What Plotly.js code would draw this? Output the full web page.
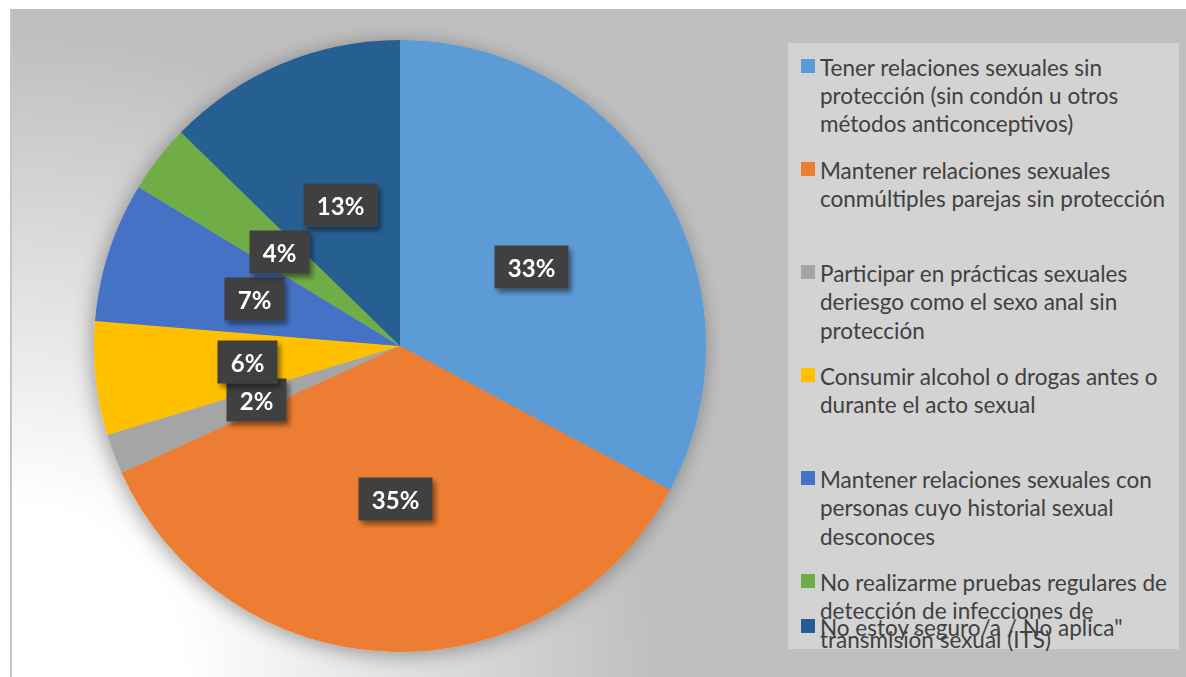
<!DOCTYPE html>
<html>
<head>
<meta charset="utf-8">
<script src="https://cdn.plot.ly/plotly-3.0.1.min.js"></script>
<style>
  html, body { margin: 0; padding: 0; background: #ffffff; }
  #bg {
    position: absolute; left: 10px; top: 9px; width: 1176px; height: 668px;
    box-sizing: border-box; border-left: 2px solid #c4c4c4;
    background: radial-gradient(circle at 0px 668px, #ffffff 0px, #ffffff 170px, #bfbfbf 640px);
  }
  #chart { position: absolute; left: 0; top: 0; width: 1186px; height: 677px; }
</style>
</head>
<body>
<div id="bg"></div>
<svg width="0" height="0" style="position:absolute">
  <defs>
    <filter id="pieShadow" x="-20%" y="-20%" width="140%" height="140%">
      <feGaussianBlur in="SourceAlpha" stdDeviation="10"/>
      <feOffset dx="-2" dy="3" result="blur"/>
      <feFlood flood-color="#000000" flood-opacity="0.35"/>
      <feComposite in2="blur" operator="in" result="shadow"/>
      <feMerge><feMergeNode in="shadow"/><feMergeNode in="SourceGraphic"/></feMerge>
    </filter>
    <filter id="labelShadow" x="-30%" y="-30%" width="160%" height="160%">
      <feGaussianBlur in="SourceAlpha" stdDeviation="2.5"/>
      <feOffset dx="3" dy="4" result="blur"/>
      <feFlood flood-color="#000000" flood-opacity="0.45"/>
      <feComposite in2="blur" operator="in" result="shadow"/>
      <feMerge><feMergeNode in="shadow"/><feMergeNode in="SourceGraphic"/></feMerge>
    </filter>
  </defs>
</svg>
<div id="chart"></div>
<script>
// ---- data ----
const categories = [
  "Tener relaciones sexuales sin<br>protección (sin condón u otros<br>métodos anticonceptivos)",
  "Mantener relaciones sexuales<br>conmúltiples parejas sin protección",
  "Participar en prácticas sexuales<br>deriesgo como el sexo anal sin<br>protección",
  "Consumir alcohol o drogas antes o<br>durante el acto sexual",
  "Mantener relaciones sexuales con<br>personas cuyo historial sexual<br>desconoces",
  "No realizarme pruebas regulares de<br>detección de infecciones de<br>transmisión sexual (ITS)",
  "No estoy seguro/a / No aplica\""
];
const values = [32.8, 35.4, 2.1, 6.0, 7.4, 3.6, 12.7];
const colors = ["#5B9BD5", "#ED7D31", "#A5A5A5", "#FFC000", "#4472C4", "#70AD47", "#255E91"];

// ---- layout geometry ----
const W = 1186, H = 677;
const cx = 400, cy = 346, R = 306;
const px = x => x / W;
const py = y => 1 - y / H;

const trace = {
  type: "pie",
  labels: categories,
  values: values,
  sort: false,
  direction: "clockwise",
  rotation: 0,
  marker: { colors: colors, line: { width: 0 } },
  textinfo: "none",
  hoverinfo: "label+percent",
  showlegend: false,
  domain: { x: [px(cx - R), px(cx + R)], y: [py(cy + R), py(cy - R)] }
};

const annotations = [];
const shapes = [];

// data labels placed along each slice's mid-angle
const total = values.reduce((a, b) => a + b, 0);
let cum = 0;
values.forEach((v, i) => {
  const mid = (cum + v / 2) / total * 2 * Math.PI;
  cum += v;
  const lx = cx + 0.5 * R * Math.sin(mid);
  const ly = cy - 0.5 * R * Math.cos(mid);
  const txt = "&nbsp;" + Math.round(v / total * 100) + "%&nbsp;";
  annotations.push({
    x: px(lx), y: py(ly), xref: "paper", yref: "paper", showarrow: false,
    xanchor: "center", yanchor: "middle", borderpad: 7, height: 28,
    text: "<b>" + txt + "</b>", font: { family: "Lato", size: 24, color: "#ffffff" },
    bgcolor: "#404040"
  });
});
const nLabels = annotations.length;

// legend box (drawn as shapes + text)
shapes.push({
  type: "rect", xref: "paper", yref: "paper", layer: "below",
  x0: px(788), x1: px(1179), y0: py(649), y1: py(43),
  fillcolor: "#d3d3d3", line: { width: 0 }
});
const itemY = [67, 170, 273, 376, 479, 582, 627];
const lineGap = 28.5;
categories.forEach((c, i) => {
  const y = itemY[i];
  shapes.push({
    type: "rect", xref: "paper", yref: "paper",
    x0: px(801), x1: px(815), y0: py(y + 6), y1: py(y - 8),
    fillcolor: colors[i], line: { width: 0 }
  });
  c.split("<br>").forEach((line, k) => {
    annotations.push({
      x: px(819), y: py(y + k * lineGap), xref: "paper", yref: "paper", showarrow: false,
      xanchor: "left", yanchor: "middle", align: "left", borderpad: 0,
      text: line, font: { family: "Lato", size: 22.5, color: "#404040" }
    });
  });
});

const layout = {
  width: W, height: H,
  margin: { l: 0, r: 0, t: 0, b: 0 },
  paper_bgcolor: "rgba(0,0,0,0)",
  plot_bgcolor: "rgba(0,0,0,0)",
  showlegend: false,
  annotations: annotations,
  shapes: shapes
};

Plotly.newPlot("chart", [trace], layout, { displayModeBar: false, staticPlot: true }).then(gd => {
  const pl = gd.querySelector(".pielayer");
  if (pl) pl.setAttribute("filter", "url(#pieShadow)");
  gd.querySelectorAll(".annotation").forEach(a => {
    const idx = +a.getAttribute("data-index");
    if (idx < nLabels) a.setAttribute("filter", "url(#labelShadow)");
  });
});
</script>
</body>
</html>
